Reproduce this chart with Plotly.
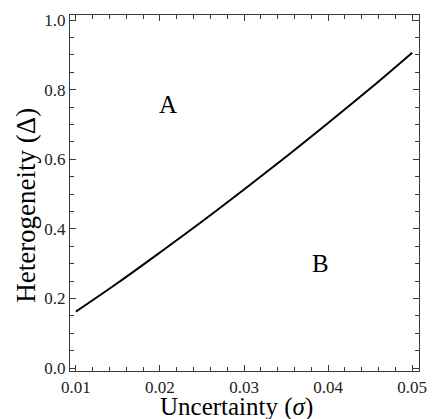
import plotly.graph_objects as go

# Data
sigma = [0.01, 0.015, 0.02, 0.025, 0.03, 0.035, 0.04, 0.045, 0.05]
delta = [0.162, 0.245, 0.332, 0.421, 0.513, 0.607, 0.704, 0.803, 0.906]

region_labels = ["A", "B"]
region_x = [0.0209, 0.0391]
region_y = [0.756, 0.301]

x_ticks = [0.01, 0.02, 0.03, 0.04, 0.05]
x_ticklabels = ["0.01", "0.02", "0.03", "0.04", "0.05"]
y_ticks = [0.0, 0.2, 0.4, 0.6, 0.8, 1.0]
y_ticklabels = ["0.0", "0.2", "0.4", "0.6", "0.8", "1.0"]

FONT = "Liberation Serif"
FRAME = "#3a3a3a"

fig = go.Figure()
fig.add_trace(go.Scatter(x=sigma, y=delta, mode="lines",
                         line=dict(color="black", width=2, shape="spline"),
                         showlegend=False, hoverinfo="skip"))

for t, x, y in zip(region_labels, region_x, region_y):
    fig.add_annotation(x=x, y=y, text=t, showarrow=False,
                       font=dict(family=FONT, size=25, color="black"),
                       xanchor="center", yanchor="middle")

fig.add_annotation(xref="paper", yref="paper", x=0.478, y=-0.100,
                   text="Uncertainty (<i>σ</i>)", showarrow=False,
                   font=dict(family=FONT, size=25, color="black"),
                   xanchor="center", yanchor="middle", borderpad=0)
fig.add_annotation(xref="paper", yref="paper", x=-0.126, y=0.464,
                   text="Heterogeneity (Δ)", showarrow=False, textangle=-90,
                   font=dict(family=FONT, size=27, color="black"),
                   xanchor="center", yanchor="middle", borderpad=0)

axis_common = dict(showline=True, linecolor=FRAME, linewidth=1.3, mirror="ticks",
                   ticks="inside", ticklen=6, tickwidth=1, tickcolor=FRAME,
                   showgrid=False, zeroline=False, ticklabeloverflow="allow",
                   tickfont=dict(family=FONT, size=17, color="#222222"))

fig.update_xaxes(range=[0.0093, 0.05081], tickvals=x_ticks, ticktext=x_ticklabels,
                 minor=dict(dtick=0.002, tick0=0.01, ticks="inside", ticklen=3.5,
                            tickcolor=FRAME, tickwidth=1, showgrid=False),
                 **axis_common)
fig.update_yaxes(range=[-0.0086, 1.0144], tickvals=y_ticks, ticktext=y_ticklabels,
                 minor=dict(dtick=0.05, tick0=0, ticks="inside", ticklen=3.5,
                            tickcolor=FRAME, tickwidth=1, showgrid=False),
                 **axis_common)

fig.update_layout(width=433, height=419,
                  margin=dict(l=70, r=6, t=15, b=48),
                  plot_bgcolor="white", paper_bgcolor="white",
                  font=dict(family=FONT))

fig.write_html("out.html", config={"displayModeBar": False},
               post_script="document.body.style.margin='0px';document.body.style.overflow='hidden';")
